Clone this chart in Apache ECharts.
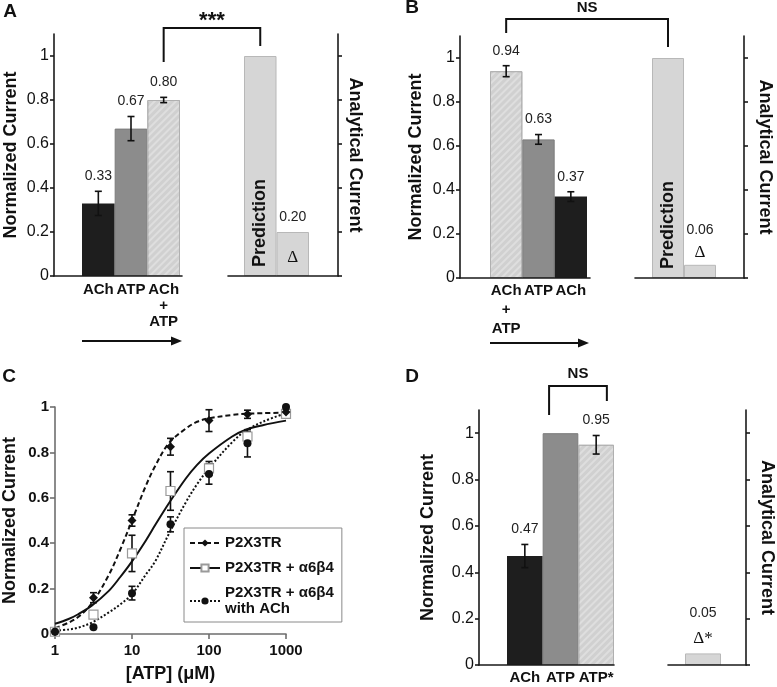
<!DOCTYPE html>
<html><head><meta charset="utf-8">
<script src="https://cdn.jsdelivr.net/npm/echarts@6/dist/echarts.min.js"></script>
<style>html,body{margin:0;padding:0;background:#fff}#c{width:777px;height:687px}</style>
</head><body><div id="c"></div><script>
// ---------- data ----------
const yTicks = [0, 0.2, 0.4, 0.6, 0.8, 1];
// Panel A
const aCats = ['ACh', 'ATP', 'ACh\n+\nATP'];
const aVals = [0.33, 0.67, 0.80];
const aErrs = [0.055, 0.055, 0.012];
const aRightCats = ['Prediction', 'Δ'];
const aRightVals = [1.0, 0.20];
// Panel B
const bCats = ['ACh\n+\nATP', 'ATP', 'ACh'];
const bVals = [0.94, 0.63, 0.37];
const bErrs = [0.025, 0.022, 0.022];
const bRightCats = ['Prediction', 'Δ'];
const bRightVals = [1.0, 0.06];
// Panel D
const dCats = ['ACh', 'ATP', 'ATP*'];
const dVals = [0.47, 1.0, 0.95];
const dErrs = [0.05, 0, 0.04];
const dRightCats = ['Δ*'];
const dRightVals = [0.05];
// Panel C
const cNames = ['P2X3TR', 'P2X3TR + α6β4', 'P2X3TR + α6β4\nwith ACh'];
const atpDoses = [1, 3.16, 10, 31.6, 100, 316, 1000];
const p2xMean = [0.01, 0.16, 0.50, 0.825, 0.94, 0.968, 0.978];
const p2xErr  = [0, 0.022, 0.025, 0.037, 0.048, 0.018, 0];
const a6b4Mean = [0.01, 0.085, 0.355, 0.63, 0.73, 0.87, 0.97];
const a6b4Err  = [0, 0, 0.08, 0.085, 0.03, 0.02, 0];
const achMean = [0.01, 0.03, 0.18, 0.483, 0.705, 0.84, 1.0];
const achErr  = [0, 0, 0.03, 0.033, 0.045, 0.06, 0];
const fitDoses = [1, 1.5, 2, 3, 5, 7, 10, 15, 20, 30, 50, 70, 100, 200, 300, 500, 1000];
const p2xFit  = [0.026, 0.05, 0.075, 0.135, 0.26, 0.37, 0.50, 0.65, 0.74, 0.84, 0.905, 0.935, 0.95, 0.965, 0.97, 0.973, 0.975];
const a6b4Fit = [0.045, 0.066, 0.087, 0.125, 0.19, 0.25, 0.32, 0.41, 0.48, 0.575, 0.685, 0.745, 0.795, 0.87, 0.90, 0.92, 0.94];
const achFit  = [0.015, 0.02, 0.028, 0.05, 0.095, 0.13, 0.175, 0.26, 0.32, 0.44, 0.58, 0.66, 0.73, 0.845, 0.895, 0.935, 0.973];

// ---------- styles ----------
const FF = 'Liberation Sans, Arial, sans-serif';
const DARK = {color: '#1a1a1a', width: 1.6};
const GRAY = {color: '#6e6e6e', width: 1.6};
const HATCH = {symbol: 'rect', symbolSize: 1, color: 'rgba(255,255,255,0.3)', dashArrayX: [1, 0], dashArrayY: [2, 3], rotation: -Math.PI / 4};
function styleFor(name) {
  if (name.indexOf('+') >= 0 || name === 'ATP*') return {color: '#d0d0d0', borderColor: '#b0b0b0', borderWidth: 1, decal: HATCH};
  if (name === 'ATP') return {color: '#8c8c8c', borderColor: '#7c7c7c', borderWidth: 1};
  if (name === 'ACh') return {color: '#1e1e1e'};
  return {color: '#d6d6d6', borderColor: '#b8b8b8', borderWidth: 1};
}

const grids = [], xAxes = [], yAxes = [], series = [];
function addGrid(left, top, width, height) { grids.push({left, top, width, height, containLabel: false}); return grids.length - 1; }
function frame(left, top, width, height, side, name, nameGap) {
  const g = addGrid(left, top, width, height);
  xAxes.push({gridIndex: g, type: 'value', min: 0, max: 1, z: 10,
    axisLine: {show: true, onZero: false, lineStyle: DARK}, axisTick: {show: false}, axisLabel: {show: false}, splitLine: {show: false}});
  yAxes.push({gridIndex: g, type: 'value', min: 0, max: 1.1, position: side, z: 10,
    axisLine: {show: true, onZero: false, lineStyle: DARK},
    axisTick: {show: true, length: 4, customValues: yTicks, lineStyle: DARK},
    axisLabel: {show: side === 'left', customValues: yTicks, fontSize: 16, color: '#111', margin: 5, fontFamily: FF},
    splitLine: {show: false},
    name, nameLocation: 'middle', nameGap, nameRotate: side === 'left' ? 90 : -90,
    nameTextStyle: {fontSize: 18, fontWeight: 'bold', color: '#111', fontFamily: FF}});
  return g;
}
function bars(left, top, width, height, cats, vals, showLabels, lh, margin) {
  const g = addGrid(left, top, width, height);
  xAxes.push({gridIndex: g, type: 'category', data: cats, axisLine: {show: false}, axisTick: {show: false},
    axisLabel: {show: showLabels, interval: 0, fontSize: 15, fontWeight: 'bold', color: '#111', lineHeight: lh, margin, fontFamily: FF},
    splitLine: {show: false}});
  yAxes.push({gridIndex: g, type: 'value', min: 0, max: 1.1, show: false});
  series.push({type: 'bar', xAxisIndex: g, yAxisIndex: g, barCategoryGap: '0%', silent: true, z: 2,
    data: vals.map((v, i) => ({value: v, itemStyle: styleFor(cats[i])}))});
  return g;
}
function errLabels(g, vals, errs) {
  series.push({type: 'custom', xAxisIndex: g, yAxisIndex: g, z: 5, silent: true,
    data: vals.map((v, i) => [i, v, errs[i]]),
    renderItem(params, api) {
      const i = api.value(0), v = api.value(1), e = api.value(2);
      const c = api.coord([i, v]), t = api.coord([i, v + e]), b = api.coord([i, v - e]);
      const ls = {stroke: '#111', lineWidth: 1.6};
      const ch = [];
      if (e > 0) {
        ch.push({type: 'line', shape: {x1: c[0], y1: t[1], x2: c[0], y2: b[1]}, style: ls});
        ch.push({type: 'line', shape: {x1: c[0] - 3.5, y1: t[1], x2: c[0] + 3.5, y2: t[1]}, style: ls});
        ch.push({type: 'line', shape: {x1: c[0] - 3.5, y1: b[1], x2: c[0] + 3.5, y2: b[1]}, style: ls});
      }
      if (v < 1) ch.push({type: 'text', x: c[0], y: t[1] - 15,
        style: {text: v.toFixed(2), align: 'center', verticalAlign: 'middle', fontSize: 14, fill: '#222', fontFamily: FF}});
      return {type: 'group', children: ch};
    }});
}
function rightLabels(g, cats, vals, cfg) {
  series.push({type: 'custom', xAxisIndex: g, yAxisIndex: g, z: 6, silent: true,
    data: vals.map((v, i) => [i, v]),
    renderItem(params, api) {
      const i = api.value(0), v = api.value(1);
      const top = api.coord([i, v]), bot = api.coord([i, 0]);
      const name = cats[i];
      if (name === 'Prediction') return {type: 'text', x: bot[0], y: bot[1] - 9, rotation: Math.PI / 2,
        style: {text: name, align: 'left', verticalAlign: 'middle', fontSize: 18, fontWeight: 'bold', fill: '#111', fontFamily: FF}};
      const gy = cfg.inside ? bot[1] - cfg.glyphGap : top[1] - cfg.glyphGap;
      return {type: 'group', children: [
        {type: 'text', x: top[0], y: top[1] - cfg.valGap,
          style: {text: v.toFixed(2), align: 'center', verticalAlign: 'middle', fontSize: 14, fill: '#222', fontFamily: FF}},
        {type: 'text', x: top[0], y: gy,
          style: {text: name, align: 'center', verticalAlign: 'middle', fontSize: 17, fill: '#111', fontFamily: 'Liberation Serif, serif'}}
      ]};
    }});
}

// Panel A
frame(54, 34, 128, 242, 'left', 'Normalized Current', 34);
const gA = bars(82, 34, 98, 242, aCats, aVals, true, 16, 6);
errLabels(gA, aVals, aErrs);
frame(228, 34, 110, 242, 'right', 'Analytical Current', 8);
const gAR = bars(244, 34, 65, 242, aRightCats, aRightVals, false, 16, 6);
rightLabels(gAR, aRightCats, aRightVals, {inside: true, glyphGap: 18, valGap: 15});
// Panel B
frame(460, 36, 130, 242, 'left', 'Normalized Current', 35);
const gB = bars(490, 36, 97, 242, bCats, bVals, true, 19, 3);
errLabels(gB, bVals, bErrs);
frame(635, 36, 109, 242, 'right', 'Analytical Current', 12);
const gBR = bars(652, 36, 64, 242, bRightCats, bRightVals, false, 16, 6);
rightLabels(gBR, bRightCats, bRightVals, {inside: false, glyphGap: 12, valGap: 35});

// Panel C
const gC = addGrid(55, 407, 231, 227);
const NTS = {fontSize: 18, fontWeight: 'bold', color: '#111', fontFamily: FF};
xAxes.push({gridIndex: gC, type: 'log', logBase: 10, min: 1, max: 1000,
  axisLine: {show: true, onZero: false, lineStyle: GRAY}, axisTick: {show: true, length: 5, lineStyle: GRAY},
  minorTick: {show: false}, splitLine: {show: false},
  axisLabel: {fontSize: 15, fontWeight: 'bold', color: '#111', margin: 9, fontFamily: FF, formatter: v => String(Math.round(v))},
  name: '[ATP] (μM)', nameLocation: 'middle', nameGap: 31, nameTextStyle: NTS});
yAxes.push({gridIndex: gC, type: 'value', min: 0, max: 1, interval: 0.2,
  axisLine: {show: true, onZero: false, lineStyle: GRAY}, axisTick: {show: true, length: 5, lineStyle: GRAY},
  splitLine: {show: false},
  axisLabel: {fontSize: 15, fontWeight: 'bold', color: '#111', margin: 6, fontFamily: FF},
  name: 'Normalized Current', nameLocation: 'middle', nameGap: 36, nameTextStyle: NTS});
const cSpecs = [
  {name: cNames[0], fit: p2xFit, mean: p2xMean, err: p2xErr, dash: [5, 3], symbol: 'diamond', size: 9, item: {color: '#111', opacity: 1}},
  {name: cNames[1], fit: a6b4Fit, mean: a6b4Mean, err: a6b4Err, dash: 'solid', symbol: 'rect', size: 9, item: {color: '#fff', borderColor: '#9a9a9a', borderWidth: 1.2, opacity: 1}},
  {name: cNames[2], fit: achFit, mean: achMean, err: achErr, dash: [2, 2], symbol: 'circle', size: 8, item: {color: '#111', opacity: 1}}
];
cSpecs.forEach((s, k) => {
  series.push({type: 'line', name: s.name, xAxisIndex: gC, yAxisIndex: gC, smooth: 0.35, showSymbol: false,
    symbol: s.symbol, symbolSize: s.size, itemStyle: s.item, silent: true, z: 3,
    lineStyle: {color: '#111', width: 2, type: s.dash},
    data: fitDoses.map((x, i) => [x, s.fit[i]])});
});
cSpecs.forEach((s, k) => {
  series.push({type: 'custom', xAxisIndex: gC, yAxisIndex: gC, z: 4, silent: true,
    data: atpDoses.map((x, i) => [x, s.mean[i], s.err[i]]),
    renderItem(params, api) {
      const x = api.value(0), v = api.value(1), e = api.value(2);
      if (!(e > 0)) return null;
      const t = api.coord([x, v + e]), b = api.coord([x, v - e]);
      const ls = {stroke: '#111', lineWidth: 1.6};
      return {type: 'group', children: [
        {type: 'line', shape: {x1: t[0], y1: t[1], x2: b[0], y2: b[1]}, style: ls},
        {type: 'line', shape: {x1: t[0] - 3.5, y1: t[1], x2: t[0] + 3.5, y2: t[1]}, style: ls},
        {type: 'line', shape: {x1: b[0] - 3.5, y1: b[1], x2: b[0] + 3.5, y2: b[1]}, style: ls}
      ]};
    }});
});
cSpecs.forEach((s, k) => {
  series.push({type: 'scatter', name: 'pts' + k, xAxisIndex: gC, yAxisIndex: gC, symbol: s.symbol, symbolSize: s.size,
    itemStyle: s.item, silent: true, z: 5 + (k === 1 ? 0 : 1),
    data: atpDoses.map((x, i) => [x, s.mean[i]])});
});

// Panel D
frame(479, 410, 135, 255, 'left', 'Normalized Current', 42);
const gD = bars(507, 410, 107, 255, dCats, dVals, true, 16, 5);
errLabels(gD, dVals, dErrs);
frame(668, 410, 80, 255, 'right', 'Analytical Current', 12);
const gDR = bars(685, 410, 36, 255, dRightCats, dRightVals, false, 16, 6);
rightLabels(gDR, dRightCats, dRightVals, {inside: false, glyphGap: 15, valGap: 40});

const option = {
  animation: false,
  textStyle: {fontFamily: FF},
  grid: grids, xAxis: xAxes, yAxis: yAxes, series,
  legend: {
    orient: 'vertical', left: 184, top: 528, selectedMode: false,
    data: cNames, itemWidth: 30, itemHeight: 9, itemGap: 9,
    borderColor: '#8a8a8a', borderWidth: 1, padding: [7, 8, 5, 5],
    textStyle: {fontSize: 15, fontWeight: 'bold', color: '#111', lineHeight: 16, fontFamily: FF}
  }
};
const chart = echarts.init(document.getElementById('c'), null, {renderer: 'canvas'});
chart.setOption(option);

// ---------- annotations derived from axes ----------
const P = (g, x, y) => chart.convertToPixel({xAxisIndex: g, yAxisIndex: g}, [x, y]);
const gr = [];
const LS = {stroke: '#111', lineWidth: 2, fill: null};
function bracket(l0, l1, r0, label, size, dy) {
  gr.push({type: 'polyline', shape: {points: [l0, [l0[0], l1[1]], [r0[0], l1[1]], r0]}, style: LS});
  gr.push({type: 'text', x: (l0[0] + r0[0]) / 2, y: l1[1] - dy,
    style: {text: label, align: 'center', verticalAlign: 'middle', fontSize: size, fontWeight: 'bold', fill: '#111', fontFamily: FF}});
}
// A: ACh+ATP vs Prediction
bracket(P(gA, 2, 0.973), P(gA, 2, 1.127), P(gAR, 0, 1.045), '***', 22, 7);
// B
bracket(P(gB, 0, 1.114), P(gB, 0, 1.177), P(gBR, 0, 1.05), 'NS', 15, 11);
// D: ATP vs ATP*
const dBand = P(gD, 1, 0)[0] - P(gD, 0, 0)[0];
const dl = P(gD, 1, 1.078), dlt = P(gD, 1, 1.204), dr = P(gD, 2, 1.139);
bracket([dl[0] - dBand * 0.32, dl[1]], [dl[0] - dBand * 0.32, dlt[1]], [dr[0] + dBand * 0.3, dr[1]], 'NS', 15, 12);
// arrows under A and B
function arrow(g, n) {
  const band = P(g, 1, 0)[0] - P(g, 0, 0)[0];
  const x0 = P(g, 0, 0)[0] - band / 2, x1 = P(g, n - 1, 0)[0] + band / 2 + 2;
  const y = P(g, 0, 0)[1] + 65;
  gr.push({type: 'line', shape: {x1: x0, y1: y, x2: x1 - 8, y2: y}, style: {stroke: '#111', lineWidth: 2}});
  gr.push({type: 'polygon', shape: {points: [[x1 - 11, y - 4.5], [x1, y], [x1 - 11, y + 4.5]]}, style: {fill: '#111'}});
}
arrow(gA, aCats.length);
arrow(gB, bCats.length);
// panel letters
[['A', 10, 12], ['B', 412, 8], ['C', 9, 377], ['D', 412, 377]].forEach(([t, x, y]) => {
  gr.push({type: 'text', x, y, style: {text: t, align: 'center', verticalAlign: 'middle', fontSize: 19, fontWeight: 'bold', fill: '#111', fontFamily: FF}});
});
chart.setOption({graphic: gr});
</script></body></html>
